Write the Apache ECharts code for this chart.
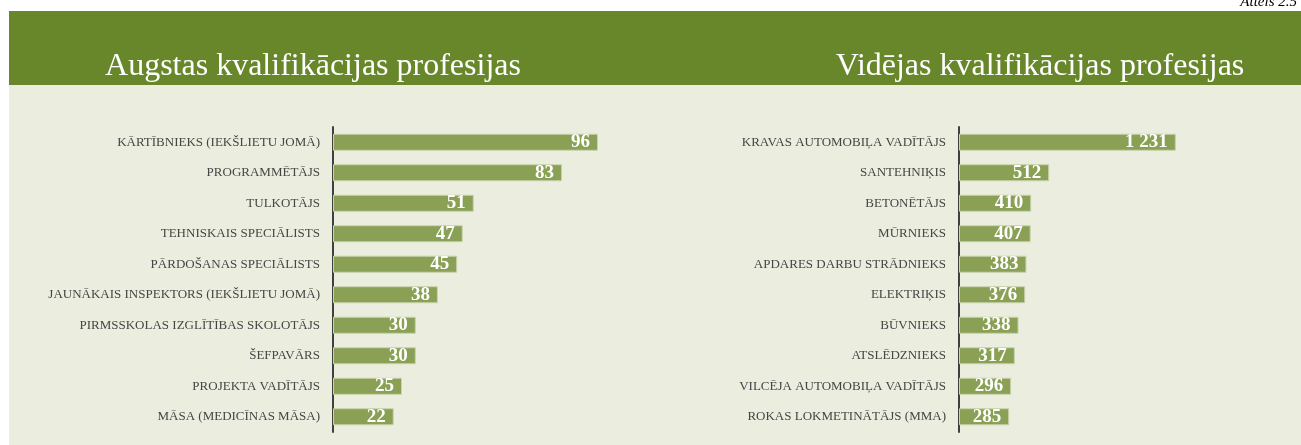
<!DOCTYPE html>
<html>
<head>
  <meta charset="UTF-8">
  <title>Attēls 2.5</title>
  <script src="https://cdn.jsdelivr.net/npm/echarts@6/dist/echarts.min.js"></script>
  <style>
    html, body { margin: 0; padding: 0; background: #fff; }
    #main { width: 1301px; height: 445px; }
  </style>
</head>
<body>
<div id="main"></div>
<script type="text/javascript">
  // augstas kvalifikācijas profesijas
  var highJobs = ['KĀRTĪBNIEKS (IEKŠLIETU JOMĀ)', 'PROGRAMMĒTĀJS', 'TULKOTĀJS', 'TEHNISKAIS SPECIĀLISTS',
    'PĀRDOŠANAS SPECIĀLISTS', 'JAUNĀKAIS INSPEKTORS (IEKŠLIETU JOMĀ)', 'PIRMSSKOLAS IZGLĪTĪBAS SKOLOTĀJS',
    'ŠEFPAVĀRS', 'PROJEKTA VADĪTĀJS', 'MĀSA (MEDICĪNAS MĀSA)'];
  var highValues = [96, 83, 51, 47, 45, 38, 30, 30, 25, 22];

  // vidējas kvalifikācijas profesijas
  var midJobs = ['KRAVAS AUTOMOBIĻA VADĪTĀJS', 'SANTEHNIĶIS', 'BETONĒTĀJS', 'MŪRNIEKS',
    'APDARES DARBU STRĀDNIEKS', 'ELEKTRIĶIS', 'BŪVNIEKS', 'ATSLĒDZNIEKS',
    'VILCĒJA AUTOMOBIĻA VADĪTĀJS', 'ROKAS LOKMETINĀTĀJS (MMA)'];
  var midValues = [1231, 512, 410, 407, 383, 376, 338, 317, 296, 285];

  var barColor = '#8aa155';
  var serif = '"Liberation Serif", "DejaVu Serif", serif';

  function fmt(v) {
    return String(v).replace(/\B(?=(\d{3})+(?!\d))/g, ' ');
  }

  function catAxis(idx, names) {
    return {
      type: 'category', gridIndex: idx, data: names, inverse: true,
      axisLine: { show: true, lineStyle: { color: '#404040', width: 2 } },
      axisTick: { show: false },
      axisLabel: { fontFamily: serif, fontSize: 13, color: '#454545', margin: 13 }
    };
  }

  function barSeries(idx, values) {
    return {
      type: 'bar', xAxisIndex: idx, yAxisIndex: idx, data: values,
      barWidth: '56%', silent: true,
      itemStyle: { color: barColor, borderColor: '#c9d3ae', borderWidth: 1 },
      label: {
        show: true, position: 'insideRight', distance: 8,
        fontFamily: serif, fontWeight: 'bold', fontSize: 19, color: '#ffffff',
        formatter: function (p) { return fmt(p.value); }
      }
    };
  }

  var myChart = echarts.init(document.getElementById('main'));

  var option = {
    backgroundColor: '#ffffff',
    animation: false,
    graphic: [
      { type: 'rect', z: -10, shape: { x: 9, y: 85, width: 1292, height: 360 }, style: { fill: '#ebeedf' } },
      { type: 'rect', z: -10, shape: { x: 9, y: 11, width: 1292, height: 74 }, style: { fill: '#67872a' } },
      { type: 'text', x: 313, y: 67, style: { text: 'Augstas kvalifikācijas profesijas', fill: '#ffffff',
          font: '32px ' + serif, textAlign: 'center', textVerticalAlign: 'middle' } },
      { type: 'text', x: 1040, y: 67, style: { text: 'Vidējas kvalifikācijas profesijas', fill: '#ffffff',
          font: '32px ' + serif, textAlign: 'center', textVerticalAlign: 'middle' } },
      { type: 'text', x: 1297, y: 2, style: { text: 'Attēls 2.5', fill: '#000000',
          font: 'italic 15px ' + serif, textAlign: 'right', textVerticalAlign: 'middle' } }
    ],
    grid: [
      { left: 333, top: 127, width: 276, height: 305 },
      { left: 959, top: 127, width: 229, height: 305 }
    ],
    xAxis: [
      { type: 'value', gridIndex: 0, min: 0, max: 100, show: false },
      { type: 'value', gridIndex: 1, min: 0, max: 1300, show: false }
    ],
    yAxis: [catAxis(0, highJobs), catAxis(1, midJobs)],
    series: [barSeries(0, highValues), barSeries(1, midValues)]
  };

  myChart.setOption(option);
</script>
</body>
</html>
